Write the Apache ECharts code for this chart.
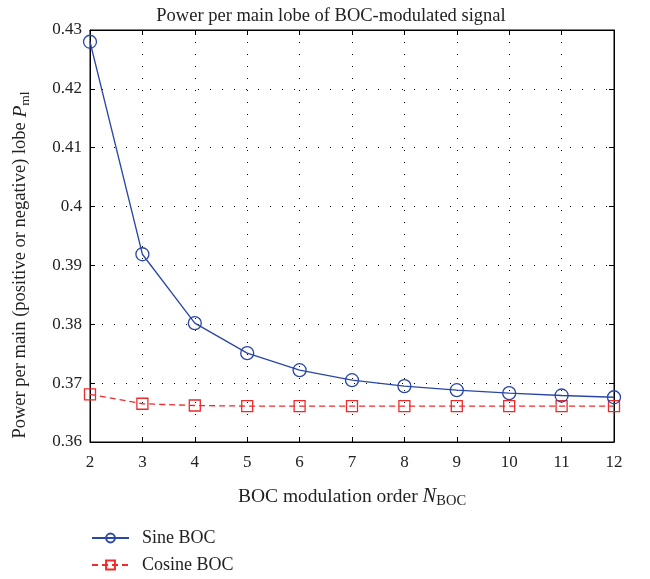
<!DOCTYPE html>
<html>
<head>
<meta charset="utf-8">
<script src="https://cdn.jsdelivr.net/npm/echarts@6/dist/echarts.min.js"></script>
<style>
  html, body { margin: 0; padding: 0; background: #fff; }
  #chart { width: 650px; height: 579px; }
</style>
</head>
<body>
<div id="chart"></div>
<script>
// BOC modulation order
var orders = [2, 3, 4, 5, 6, 7, 8, 9, 10, 11, 12];
// power per main lobe
var sineBoc = [0.4280, 0.3919, 0.3802, 0.3751, 0.3722, 0.3705, 0.3695, 0.3688, 0.3683, 0.3679, 0.3676];
var cosineBoc = [0.3681, 0.3665, 0.3662, 0.3661, 0.3661, 0.3661, 0.3661, 0.3661, 0.3661, 0.3661, 0.3661];

var font = '"Liberation Serif", "DejaVu Serif", serif';
var ink = '#222';
var dotted = { show: true, lineStyle: { color: '#000', type: [1, 11], width: 1 } };

function pairs(xs, ys) {
  return xs.map(function (x, i) { return [x, ys[i]]; });
}

// rich styles for italic symbol + subscript in axis names
function nameRich(size) {
  return {
    n: { fontFamily: font, fontSize: size, color: ink },
    i: { fontFamily: font, fontSize: size + 1, fontStyle: 'italic', color: ink },
    s: { fontFamily: font, fontSize: size - 5, color: ink, padding: [9, 0, 0, 0] }
  };
}

var myChart = echarts.init(document.getElementById('chart'));
var option = {
  animation: false,
  textStyle: { fontFamily: font },
  title: {
    text: 'Power per main lobe of BOC-modulated signal',
    left: 326,
    textAlign: 'center',
    top: 2,
    textStyle: { fontFamily: font, fontSize: 18.5, fontWeight: 'normal', color: ink }
  },
  grid: {
    left: 90, right: 36, top: 30, bottom: 137,
    outerBoundsMode: 'none',
    show: true, borderColor: '#000', borderWidth: 1
  },
  legend: {
    orient: 'vertical',
    left: 91,
    top: 528,
    padding: 0,
    itemGap: 7,
    itemWidth: 37,
    itemHeight: 11,
    textStyle: { fontFamily: font, fontSize: 18, lineHeight: 20, color: ink, padding: [0, 0, 0, 8] },
    data: ['Sine BOC', 'Cosine BOC']
  },
  xAxis: [{
    type: 'value',
    min: 2, max: 12, interval: 1,
    axisLine: { lineStyle: { color: '#000' } },
    axisTick: { inside: true, length: 5, lineStyle: { color: '#000' } },
    axisLabel: { fontFamily: font, fontSize: 17, color: ink, margin: 12 },
    splitLine: dotted,
    name: '{n|BOC modulation order }{i|N}{s|BOC}',
    nameLocation: 'middle',
    nameGap: 43,
    nameTextStyle: { rich: nameRich(19.5) }
  }, {
    type: 'value',
    position: 'top',
    min: 2, max: 12, interval: 1,
    axisLine: { show: true, lineStyle: { color: '#000' } },
    axisTick: { inside: true, length: 5, lineStyle: { color: '#000' } },
    axisLabel: { show: false },
    splitLine: { show: false }
  }],
  yAxis: [{
    type: 'value',
    min: 0.36, max: 0.43, interval: 0.01,
    axisLine: { show: true, lineStyle: { color: '#000' } },
    axisTick: { show: true, inside: true, length: 5, lineStyle: { color: '#000' } },
    axisLabel: { fontFamily: font, fontSize: 17, color: ink, margin: 8 },
    splitLine: dotted,
    name: '{n|Power per main (positive or negative) lobe }{i|P}{s|ml}',
    nameLocation: 'middle',
    nameGap: 58,
    nameRotate: 90,
    nameTextStyle: { rich: nameRich(18.5), padding: [0, 58, 0, 0] }
  }, {
    type: 'value',
    position: 'right',
    min: 0.36, max: 0.43, interval: 0.01,
    axisLine: { show: true, lineStyle: { color: '#000' } },
    axisTick: { show: true, inside: true, length: 5, lineStyle: { color: '#000' } },
    axisLabel: { show: false },
    splitLine: { show: false }
  }],
  series: [{
    name: 'Sine BOC',
    type: 'line',
    data: pairs(orders, sineBoc),
    symbol: 'circle',
    symbolSize: 13,
    showAllSymbol: true,
    itemStyle: { color: 'rgba(255,255,255,0)', borderColor: '#2a47a8', borderWidth: 1.3 },
    lineStyle: { color: '#2a47a8', width: 1.3 },
    z: 3
  }, {
    name: 'Cosine BOC',
    type: 'line',
    data: pairs(orders, cosineBoc),
    symbol: 'rect',
    symbolSize: 11,
    showAllSymbol: true,
    itemStyle: { color: 'rgba(255,255,255,0)', borderColor: '#ee2a2a', borderWidth: 1.3 },
    lineStyle: { color: '#ee2a2a', width: 1.3, type: [6, 4] },
    z: 2
  }]
};
myChart.setOption(option);
</script>
</body>
</html>
